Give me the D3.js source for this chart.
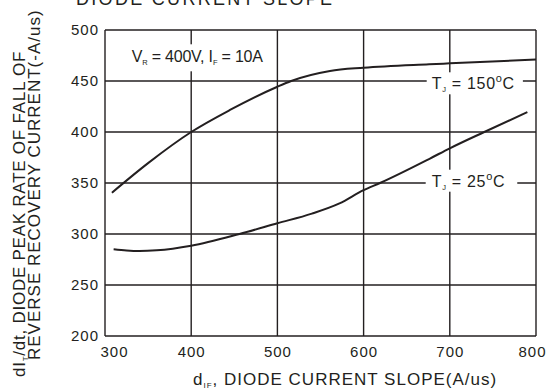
<!DOCTYPE html>
<html>
<head>
<meta charset="utf-8">
<script src="https://cdn.jsdelivr.net/npm/d3@7"></script>
<style>
  html, body { margin: 0; padding: 0; background: #fff; }
  svg { display: block; font-family: "Liberation Sans", Arial, Helvetica, sans-serif; }
</style>
</head>
<body>
<svg id="chart" width="547" height="391"></svg>
<script>
// Diode peak rate of fall of reverse recovery current vs. diode current slope
const xTicks = [300, 400, 500, 600, 700, 800];
const yTicks = [200, 250, 300, 350, 400, 450, 500];

// T_J = 150 °C
const hotX = [308, 350, 400, 445, 500, 516, 561, 600, 676, 700, 800];
const hotY = [340.5, 369.5, 400, 421.6, 444.4, 450, 459.8, 463, 466.4, 467.3, 471];

// T_J = 25 °C
const coldX = [310, 325, 340, 360, 400, 456, 500, 540, 572, 600, 619, 677, 700, 740, 790];
const coldY = [285, 283.8, 283.3, 284, 288.5, 300, 310.5, 320, 330, 343, 350, 374, 384, 400, 419.5];

const ink = "#231f20";
const svg = d3.select("#chart");

const plotL = 105, plotR = 536, plotT = 30, plotB = 336;
const x = d3.scaleLinear().domain([300, 800]).range([plotL, plotR]);
const y = d3.scaleLinear().domain([200, 500]).range([plotB, plotT]);

// grid (the outer lines form the frame)
const grid = svg.append("g").attr("stroke", ink).attr("stroke-width", 1.4);
grid.selectAll("line.v").data(xTicks).join("line").attr("class", "v")
  .attr("x1", d => x(d)).attr("x2", d => x(d))
  .attr("y1", y(200)).attr("y2", y(500));
grid.selectAll("line.h").data(yTicks).join("line").attr("class", "h")
  .attr("x1", x(300)).attr("x2", x(800))
  .attr("y1", d => y(d)).attr("y2", d => y(d));

// tick labels from the axis generators
const gx = svg.append("g")
  .attr("transform", `translate(0,${plotB})`)
  .call(d3.axisBottom(x).tickValues(xTicks).tickSize(0).tickPadding(10));
gx.select(".domain").remove();
gx.selectAll(".tick line").remove();
gx.selectAll(".tick text")
  .attr("fill", ink).attr("font-size", 15).attr("letter-spacing", 1)
  .attr("font-family", "Liberation Sans, Arial, sans-serif")
  .attr("dx", d => d === 300 ? 9 : d === 800 ? -4 : 0);

const gy = svg.append("g")
  .attr("transform", `translate(${plotL},0)`)
  .call(d3.axisLeft(y).tickValues(yTicks).tickSize(0).tickPadding(6));
gy.select(".domain").remove();
gy.selectAll(".tick line").remove();
gy.selectAll(".tick text")
  .attr("fill", ink).attr("font-size", 15).attr("letter-spacing", 1)
  .attr("font-family", "Liberation Sans, Arial, sans-serif");

// curves
const line = d3.line().x(d => x(d[0])).y(d => y(d[1])).curve(d3.curveMonotoneX);
const series = [d3.zip(hotX, hotY), d3.zip(coldX, coldY)];
svg.append("g").selectAll("path").data(series).join("path")
  .attr("d", line)
  .attr("fill", "none")
  .attr("stroke", ink)
  .attr("stroke-width", 2);

// label helper: text with sub/superscript parts on a white patch
function label(px, py, size, spacing, parts, padL, padR, padT, padB) {
  const g = svg.append("g");
  const bg = g.append("rect").attr("fill", "#fff");
  const t = g.append("text")
    .attr("x", px).attr("y", py)
    .attr("fill", ink).attr("font-size", size).attr("letter-spacing", spacing);
  parts.forEach(p => {
    const s = t.append("tspan").text(p.t);
    if (p.sub) s.attr("font-size", 7.5).attr("dy", 3);
    if (p.sup) s.attr("font-size", 11).attr("dy", -7);
    if (p.back) s.attr("dy", p.back);
  });
  const b = t.node().getBBox();
  bg.attr("x", b.x - padL).attr("y", b.y - padT)
    .attr("width", b.width + padL + padR).attr("height", b.height + padT + padB);
}

label(131.7, 62.3, 16, -0.2, [
  { t: "V" }, { t: "R", sub: true }, { t: " = 400V, I", back: -3 }, { t: "F", sub: true }, { t: " = 10A", back: -3 }
], 2, 2, 4, 4);

label(431.7, 89.3, 16, 0.7, [
  { t: "T" }, { t: "J", sub: true }, { t: " = 150", back: -3 }, { t: "o", sup: true }, { t: "C", back: 7 }
], 5, 8, 0, 0);

label(431.7, 186.7, 16, 0.7, [
  { t: "T" }, { t: "J", sub: true }, { t: " = 25", back: -3 }, { t: "o", sup: true }, { t: "C", back: 7 }
], 6, 12, 0, 0);

// axis titles
const xt = svg.append("text")
  .attr("x", 193).attr("y", 385)
  .attr("fill", ink).attr("font-size", 17).attr("letter-spacing", 1);
xt.append("tspan").text("d");
xt.append("tspan").text("IF").attr("font-size", 8).attr("dy", 3);
xt.append("tspan").text(", DIODE CURRENT SLOPE(A/us)").attr("dy", -3);

const y1 = svg.append("text")
  .attr("transform", "translate(25,377) rotate(-90)")
  .attr("fill", ink).attr("font-size", 17).attr("letter-spacing", 0.75);
y1.append("tspan").text("dI");
y1.append("tspan").text("T").attr("font-size", 8).attr("dy", 3);
y1.append("tspan").text("/dt, DIODE PEAK RATE OF FALL OF").attr("dy", -3);

svg.append("text")
  .attr("transform", "translate(40,360) rotate(-90)")
  .attr("fill", ink).attr("font-size", 17).attr("letter-spacing", 1)
  .text("REVERSE RECOVERY CURRENT(-A/us)");

// chart title, partly above the canvas edge
svg.append("text")
  .attr("x", 76).attr("y", 5)
  .attr("fill", ink).attr("font-size", 18).attr("letter-spacing", 2.3)
  .text("DIODE CURRENT SLOPE");
</script>
</body>
</html>
